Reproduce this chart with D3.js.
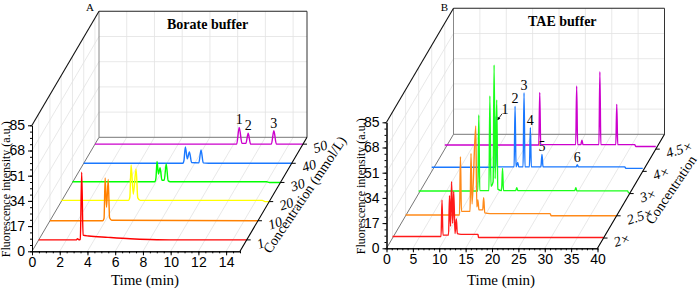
<!DOCTYPE html>
<html>
<head>
<meta charset="UTF-8">
<script src="https://d3js.org/d3.v7.min.js"></script>
<style>
  body { margin: 0; background: #fff; }
  svg { display: block; font-family: "Liberation Serif", "Times New Roman", serif; }
  .grid line { stroke: #e2e2e2; stroke-width: 0.8; }
  .axis text { font-size: 14px; fill: #000; }
  .axis path, .axis line { stroke: #000; }
</style>
</head>
<body>
<svg id="chart" width="700" height="292"></svg>
<script>
// shared value ticks
const yTicks = [0, 17, 34, 51, 68, 85];

// ---- panel A : borate buffer ----
const concA = ["1", "10", "20", "30", "40", "50"];
const colorsA = ["#ff0000", "#ff8000", "#ffff00", "#00ff00", "#1a78ff", "#cc00cc"];
const timeTicksA = [0, 2, 4, 6, 8, 10, 12, 14];
const tracesA = [
  [[0,0],[2.7,0],[2.8,0.8],[2.9,0.1],[3.0,0.4],[3.1,45.6],[3.2,3.2],[3.6,2.6],[5,1.7],[6.6,0.8],[8,0.3],[9.8,0],[15,0]],
  [[0,0],[3.8,0],[3.9,1.5],[3.98,28.9],[4.08,9],[4.2,27.8],[4.3,2],[4.45,0.3],[15,0]],
  [[0,0.8],[4.85,0.8],[4.95,3],[5.04,24.8],[5.2,5],[5.4,22.1],[5.52,2.5],[5.7,0.8],[14.5,0.8],[14.7,0],[15,0]],
  [[0,0.5],[5.95,0.5],[6.02,3],[6.1,14.2],[6.2,5.7],[6.32,10],[6.45,1.5],[6.62,1.5],[6.76,12.5],[6.9,1.2],[7.05,0.5],[14.0,0.5],[14.2,0],[15,0]],
  [[0,0],[7.15,0],[7.23,2],[7.33,11.1],[7.47,3],[7.62,7.7],[7.78,0.5],[8.3,0.3],[8.46,9.0],[8.62,0.3],[9,0],[15,0]],
  [[0,0],[10.22,0],[10.4,11.3],[10.6,0.5],[10.88,0.5],[11.05,7.3],[11.22,0],[12.72,0],[12.9,9.0],[13.08,0],[15,0]]
];
const peakLabelsA = [["1", 10.4, 11.3], ["2", 11.05, 7.3], ["3", 12.9, 9.0]]; // on 50 mmol/L trace

// ---- panel B : TAE buffer ----
const concB = ["2×", "2.5×", "3×", "4×", "4.5×"];
const colorsB = ["#ff1a1a", "#ff8a1a", "#1aff1a", "#1a78ff", "#cc00cc"];
const timeTicksB = [0, 5, 10, 15, 20, 25, 30, 35, 40];
const tracesB = [
  [[0,1],[9.2,1],[9.38,25.6],[9.56,2],[10.62,2],[10.8,28.5],[11.0,8],[11.2,38],[11.4,10],[11.6,31.2],[11.85,3],[12.1,12.8],[12.28,3],[13,2.5],[16.2,2.5],[16.3,0.4],[40,0.4]],
  [[0,0.5],[10.22,0.5],[10.4,39.9],[10.58,3],[12.22,3],[12.4,42.1],[12.6,8],[13.3,60.6],[13.5,6],[13.7,10.7],[13.9,4],[14.62,4],[14.8,12.2],[15.0,2],[16,1.5],[27.4,1.5],[27.6,0],[40,0]],
  [[0,1.7],[11.22,1.7],[11.4,53],[11.58,2],[13.32,2],[13.5,65.9],[13.7,5],[14.12,8],[14.3,86.8],[14.5,10],[14.8,63.2],[15.0,3],[15.72,2],[15.9,17],[16.08,2],[18.4,2],[18.6,4],[18.8,2],[29.6,2],[29.8,4],[30,1.8],[39.6,1.8],[39.8,0.5],[40,0.5]],
  [[0,2.8],[12.02,2.8],[12.2,37.2],[12.38,3],[15.62,3],[15.8,44],[15.98,3],[16.3,6],[16.5,3],[17.32,3],[17.5,53],[17.68,3],[18.52,3],[18.7,29.4],[18.88,3],[20.7,3],[20.9,11.4],[21.1,3],[27.4,3],[27.6,4.5],[27.8,3],[36.6,3],[36.8,2],[40,2]],
  [[0,2.8],[17.82,2.8],[18.0,38.3],[18.18,3],[24.82,3],[25.0,42.6],[25.18,3],[25.8,3],[26.0,6],[26.2,3],[29.22,3],[29.4,52.2],[29.58,3],[32.42,3],[32.6,30.2],[32.78,3],[36.0,3],[36.2,1.8],[40,1.8]]
];
const peakLabelsB = [["1", 12.2, 37.2], ["2", 15.8, 44], ["3", 17.5, 53], ["4", 18.7, 29.4], ["5", 20.9, 11.4], ["6", 27.6, 4.5]]; // on 4× trace

const svg = d3.select("#chart");

function drawPanel(cfg) {
  const g = svg.append("g");
  const x = d3.scaleLinear().domain([0, cfg.tmax]).range([cfg.ox, cfg.ox + cfg.w]);
  const y = d3.scaleLinear().domain([0, 85]).range([cfg.oy, cfg.oy - cfg.h]);
  const z = d3.scalePoint().domain(cfg.conc).range(cfg.zRange);
  const dv = [67, -114]; // oblique depth vector
  const P = (t, v, d) => [x(t) + d * dv[0], y(v) + d * dv[1]];
  const seg = (a, b, cls, col, sw) => g.append("line").attr("class", cls)
      .attr("x1", a[0]).attr("y1", a[1]).attr("x2", b[0]).attr("y2", b[1])
      .attr("stroke", col).attr("stroke-width", sw);

  // grid
  const grid = g.append("g").attr("class", "grid");
  const gl = (a, b) => grid.append("line").attr("x1", a[0]).attr("y1", a[1]).attr("x2", b[0]).attr("y2", b[1]);
  cfg.timeTicks.forEach(t => { if (t > 0) { gl(P(t, 0, 1), P(t, 85, 1)); gl(P(t, 0, 0), P(t, 0, 1)); } });
  yTicks.forEach(v => { if (v > 0 && v < 85) { gl(P(0, v, 1), P(cfg.tmax, v, 1)); gl(P(0, v, 0), P(0, v, 1)); } });
  cfg.conc.forEach(c => gl(P(0, 0, z(c)), P(0, 85, z(c))));

  // box frame
  seg(P(0, 0, 1), P(0, 85, 1), "frame", "#888", 1);
  seg(P(0, 0, 1), P(cfg.tmax, 0, 1), "frame", "#777", 1);
  seg(P(0, 0, 0), P(0, 0, 1), "frame", "#777", 1);
  seg(P(0, 85, 1), P(cfg.tmax, 85, 1), "frame", "#222", 1.1);
  seg(P(cfg.tmax, 0, 1), P(cfg.tmax, 85, 1), "frame", "#333", 1);
  seg(P(0, 85, 0), P(0, 85, 1), "frame", "#111", 1.1);

  // traces, back to front
  const line = d3.line().curve(d3.curveMonotoneX);
  for (let i = cfg.conc.length - 1; i >= 0; i--) {
    const d = z(cfg.conc[i]);
    g.append("path")
      .attr("d", line(cfg.traces[i].map(p => P(p[0], p[1], d))))
      .attr("fill", "none").attr("stroke", cfg.colors[i]).attr("stroke-width", 1.4)
      .attr("stroke-linejoin", "round");
  }

  // peak labels
  const dl = z(cfg.conc[cfg.labelSeries]);
  cfg.peakLabels.forEach(([txt, t, v]) => {
    const p = P(t, v, dl);
    const arrow = cfg.arrowLabel === txt;
    g.append("text").attr("x", p[0] + (arrow ? 9 : 0)).attr("y", p[1] - (arrow ? 2 : 3))
      .attr("text-anchor", "middle").attr("font-size", 14).text(txt);
    if (arrow) {
      seg([p[0] + 6, p[1] - 2.5], [p[0] + 2, p[1] + 3], "arrow", "#000", 0.8);
      g.append("path").attr("d", `M${p[0] + 1.5},${p[1] + 4} l0.2,-3.4 l2.6,1.6 z`).attr("fill", "#000");
    }
  });

  // x axis
  const xa = g.append("g").attr("class", "axis").attr("transform", `translate(0,${cfg.oy})`);
  xa.call(d3.axisBottom(x).tickValues(cfg.timeTicks).tickSize(4).tickSizeOuter(0).tickPadding(2));
  g.append("g").attr("class", "axis").attr("transform", `translate(0,${cfg.oy})`)
    .call(d3.axisBottom(x).tickValues(d3.range(0, cfg.tmax + 0.01, cfg.minorT)).tickSize(2).tickSizeOuter(0).tickFormat(""));

  // y axis
  g.append("g").attr("class", "axis").attr("transform", `translate(${cfg.ox},0)`)
    .call(d3.axisLeft(y).tickValues(yTicks).tickSize(4).tickSizeOuter(0).tickPadding(3));
  g.append("g").attr("class", "axis").attr("transform", `translate(${cfg.ox},0)`)
    .call(d3.axisLeft(y).tickValues(d3.range(0, 85.01, 4.25)).tickSize(2).tickSizeOuter(0).tickFormat(""));

  // depth axis
  seg(P(cfg.tmax, 0, 0), P(cfg.tmax, 0, 1), "frame", "#000", 1.1);
  cfg.conc.forEach(c => {
    const p = P(cfg.tmax, 0, z(c));
    seg(p, [p[0] + 4, p[1]], "tick", "#000", 1);
    g.append("text").attr("transform", `translate(${p[0] + 12},${p[1] + 9}) rotate(-18)`)
      .attr("font-size", 14).attr("font-style", "italic").text(c);
  });
  const mid = P(cfg.tmax, 0, 0.5);
  g.append("text").attr("transform", `translate(${mid[0] + cfg.cOff[0]},${mid[1] + cfg.cOff[1]}) rotate(-56)`)
    .attr("text-anchor", "middle").attr("font-size", 14).text(cfg.concTitle);

  // axis titles
  g.append("text").attr("x", x(cfg.tmax / 2) + 9).attr("y", 285).attr("text-anchor", "middle")
    .attr("font-size", 15).text("Time (min)");
  g.append("text").attr("transform", `translate(${cfg.ox - 22},${y(42.5) + 1}) rotate(-90)`)
    .attr("text-anchor", "middle").attr("font-size", 12).text("Fluorescence intensity (a.u.)");

  // panel letter and title
  const tl = P(0, 85, 1);
  g.append("text").attr("x", tl[0] - 9).attr("y", 11).attr("text-anchor", "middle")
    .attr("font-size", 11).text(cfg.letter);
  g.append("text").attr("x", cfg.titleX).attr("y", tl[1] + 18).attr("font-size", 14)
    .attr("font-weight", "bold").text(cfg.title);
}

drawPanel({
  letter: "A", title: "Borate buffer", titleX: 167,
  conc: concA, colors: colorsA, traces: tracesA, timeTicks: timeTicksA, tmax: 15, minorT: 0.5,
  ox: 32, oy: 251.3, w: 208, h: 126, zRange: [0.1, 0.94],
  peakLabels: peakLabelsA, labelSeries: 5, arrowLabel: null,
  concTitle: "Concentration (mmol/L)", cOff: [35, 3]
});
drawPanel({
  letter: "B", title: "TAE buffer", titleX: 528,
  conc: concB, colors: colorsB, traces: tracesB, timeTicks: timeTicksB, tmax: 40, minorT: 1,
  ox: 386.5, oy: 248.3, w: 211, h: 126, zRange: [0.09, 0.87],
  peakLabels: peakLabelsB, labelSeries: 3, arrowLabel: "1",
  concTitle: "Concentration", cOff: [44, 1]
});
</script>
</body>
</html>
